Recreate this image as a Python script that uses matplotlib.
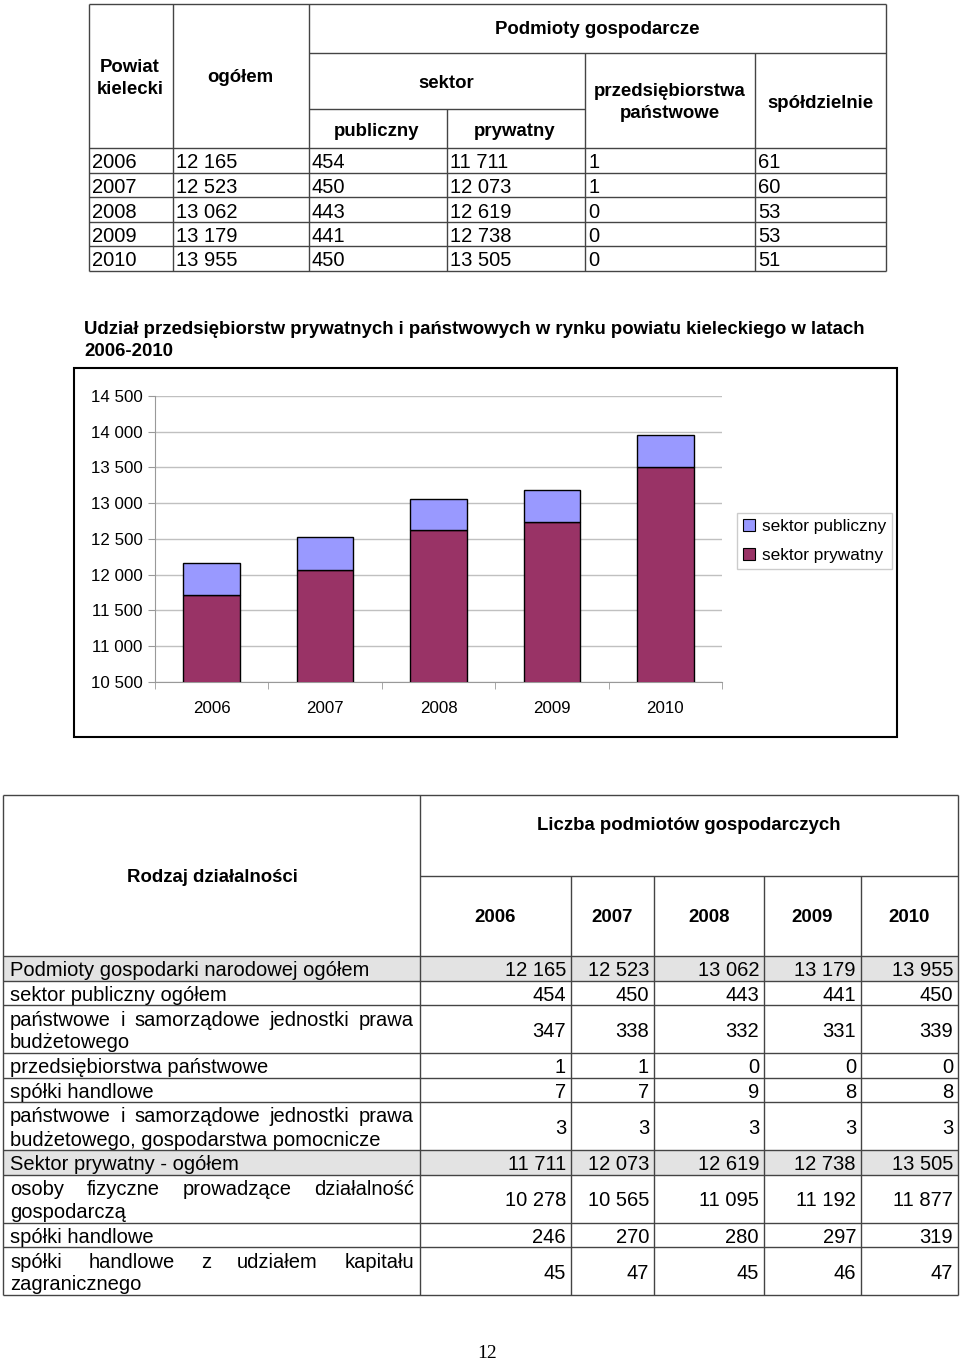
import numpy as np
import matplotlib
matplotlib.use('Agg')
import matplotlib.pyplot as plt
from matplotlib.patches import Rectangle, Patch
from matplotlib.ticker import FuncFormatter

plt.rcParams['font.family'] = ['Liberation Sans', 'DejaVu Sans']

# data
years = ['2006', '2007', '2008', '2009', '2010']
ogolem = [12165, 12523, 13062, 13179, 13955]
publiczny = [454, 450, 443, 441, 450]
prywatny = [11711, 12073, 12619, 12738, 13505]
przeds_panstw = [1, 1, 0, 0, 0]
spoldzielnie = [61, 60, 53, 53, 51]

chart_title = ['Udział przedsiębiorstw prywatnych i państwowych w rynku powiatu kieleckiego w latach',
               '2006-2010']
yticks = [10500, 11000, 11500, 12000, 12500, 13000, 13500, 14000, 14500]

row_labels = [
    'Podmioty gospodarki narodowej ogółem',
    'sektor publiczny ogółem',
    ('państwowe i samorządowe jednostki prawa', 'budżetowego'),
    'przedsiębiorstwa państwowe',
    'spółki handlowe',
    ('państwowe i samorządowe jednostki prawa', 'budżetowego, gospodarstwa pomocnicze'),
    'Sektor prywatny - ogółem',
    ('osoby fizyczne prowadzące działalność', 'gospodarczą'),
    'spółki handlowe',
    ('spółki handlowe z udziałem kapitału', 'zagranicznego'),
]
row_values = [
    [12165, 12523, 13062, 13179, 13955],
    [454, 450, 443, 441, 450],
    [347, 338, 332, 331, 339],
    [1, 1, 0, 0, 0],
    [7, 7, 9, 8, 8],
    [3, 3, 3, 3, 3],
    [11711, 12073, 12619, 12738, 13505],
    [10278, 10565, 11095, 11192, 11877],
    [246, 270, 280, 297, 319],
    [45, 47, 45, 46, 47],
]
gray_rows = [0, 6]


def fmt(v):
    return f'{v:,}'.replace(',', ' ')


W, H = 960, 1362
fig = plt.figure(figsize=(W / 100, H / 100), dpi=100)
ov = fig.add_axes([0, 0, 1, 1])
ov.set_xlim(0, W)
ov.set_ylim(H, 0)
ov.axis('off')

LC = '#444444'
FS = 14.5
HFS = 13.4


def hline(x0, x1, y, c=LC, lw=1):
    ov.plot([x0, x1], [y, y], color=c, lw=lw, solid_capstyle='butt')


def vline(x, y0, y1, c=LC, lw=1):
    ov.plot([x, x], [y0, y1], color=c, lw=lw, solid_capstyle='butt')


# ---------------- top table ----------------
cx = [89, 173, 309, 447, 585, 755, 886]
top = 4
rows_y = [148, 173, 197, 222, 246, 271]

hline(89, 886, top)
hline(309, 886, 53)
hline(309, 585, 109)
for y in rows_y:
    hline(89, 886, y)
for x in [89, 173, 309, 886]:
    vline(x, top, rows_y[-1])
vline(447, 109, rows_y[-1])
for x in [585, 755]:
    vline(x, 53, rows_y[-1])

hdr = dict(fontsize=HFS, fontweight='bold', ha='center', va='center')
ov.text(130, 67, 'Powiat', **hdr)
ov.text(130, 89, 'kielecki', **hdr)
ov.text(240, 78, 'ogółem', **hdr)
ov.text(597, 30, 'Podmioty gospodarcze', **hdr)
ov.text(446, 83, 'sektor', **hdr)
ov.text(377, 131, 'publiczny', **hdr)
ov.text(515, 131, 'prywatny', **hdr)
ov.text(670, 92, 'przedsiębiorstwa', **hdr)
ov.text(670, 113, 'państwowe', **hdr)
ov.text(820, 103, 'spółdzielnie', **hdr)

cols = [years, [fmt(v) for v in ogolem], [fmt(v) for v in publiczny],
        [fmt(v) for v in prywatny], [fmt(v) for v in przeds_panstw],
        [fmt(v) for v in spoldzielnie]]
for ci, col in enumerate(cols):
    for ri, s in enumerate(col):
        yc = (rows_y[ri] + rows_y[ri + 1]) / 2 + 2.5
        ov.text(cx[ci] + 3, yc, s, fontsize=FS, ha='left', va='center')

# ---------------- chart ----------------
ov.text(84, 330, chart_title[0], fontsize=HFS, fontweight='bold', ha='left', va='center')
ov.text(84, 352, chart_title[1], fontsize=HFS, fontweight='bold', ha='left', va='center')
ov.add_patch(Rectangle((74, 368), 897 - 74, 737 - 368, fill=False, ec='black', lw=1.5))

pl, pr, pt, pb = 155, 722, 396, 682
ax = fig.add_axes([pl / W, 1 - pb / H, (pr - pl) / W, (pb - pt) / H])
ax.set_facecolor('none')
x = np.arange(len(years))
c_priv = '#993366'
c_pub = '#9999FF'
ax.bar(x, prywatny, width=0.5, color=c_priv, edgecolor='black', lw=1, zorder=3)
ax.bar(x, publiczny, width=0.5, bottom=prywatny, color=c_pub, edgecolor='black', lw=1, zorder=3)
ax.set_xlim(-0.5, len(years) - 0.5)
ax.set_ylim(10500, 14500)
ax.set_yticks(yticks)
ax.yaxis.set_major_formatter(FuncFormatter(lambda v, p: fmt(int(v))))
ax.set_xticks(x)
ax.set_xticklabels(years)
ax.set_xticks(np.arange(len(years) + 1) - 0.5, minor=True)
ax.tick_params(axis='x', which='major', length=0, pad=13.5, labelsize=12.2)
ax.tick_params(axis='x', which='minor', length=5, color='#999999')
ax.tick_params(axis='y', length=5, color='#999999', labelsize=12.2, pad=4)
ax.grid(axis='y', color='#c0c0c0', lw=1, zorder=0)
for s in ['top', 'right']:
    ax.spines[s].set_visible(False)
for s in ['left', 'bottom']:
    ax.spines[s].set_color('#999999')

handles = [Patch(facecolor=c_pub, edgecolor='black', lw=0.8, label='sektor publiczny'),
           Patch(facecolor=c_priv, edgecolor='black', lw=0.8, label='sektor prywatny')]
leg = ax.legend(handles=handles, loc='center left', bbox_to_anchor=(737 / W, 1 - 541 / H),
                bbox_transform=fig.transFigure, fontsize=12.4, frameon=True, fancybox=False,
                edgecolor='#c0c0c0', handlelength=0.7, handleheight=0.7, handletextpad=0.4,
                borderpad=0.35, labelspacing=0.85, borderaxespad=0)
leg.get_frame().set_linewidth(1)

# ---------------- bottom table ----------------
bx = [3, 420, 571, 654, 764, 861, 958]
bt, bh1, bh2 = 795, 876, 956
line_h = 24.5
bounds = [bh2]
for lab in row_labels:
    bounds.append(bounds[-1] + (48 if isinstance(lab, tuple) else line_h))

for ri in gray_rows:
    ov.add_patch(Rectangle((bx[0], bounds[ri]), bx[-1] - bx[0], bounds[ri + 1] - bounds[ri],
                           fc='#e3e3e3', ec='none', zorder=0))

hline(bx[0], bx[-1], bt)
hline(bx[1], bx[-1], bh1)
for y in bounds:
    hline(bx[0], bx[-1], y)
vline(bx[0], bt, bounds[-1])
vline(bx[1], bt, bounds[-1])
vline(bx[-1], bt, bounds[-1])
for xx in bx[2:-1]:
    vline(xx, bh1, bounds[-1])

ov.text(689, 826, 'Liczba podmiotów gospodarczych', **hdr)
ov.text(212, 877, 'Rodzaj działalności', **hdr)
for i, yr in enumerate(years):
    ov.text((bx[i + 1] + bx[i + 2]) / 2, 918, yr, **hdr)

fig.canvas.draw()
renderer = fig.canvas.get_renderer()


def justified(words_line, x0, x1, y):
    words = words_line.split(' ')
    ws = []
    for w in words:
        t = ov.text(0, 0, w, fontsize=FS)
        ws.append(t.get_window_extent(renderer).width)
        t.remove()
    gap = (x1 - x0 - sum(ws)) / (len(words) - 1)
    xp = x0
    for w, wd in zip(words, ws):
        ov.text(xp, y, w, fontsize=FS, ha='left', va='center')
        xp += wd + gap


for ri, lab in enumerate(row_labels):
    y0, y1 = bounds[ri], bounds[ri + 1]
    yc = (y0 + y1) / 2 + 2.5
    if isinstance(lab, tuple):
        justified(lab[0], 10, 414, yc - 11.5)
        ov.text(10, yc + 11.5, lab[1], fontsize=FS, ha='left', va='center')
    else:
        ov.text(10, yc, lab, fontsize=FS, ha='left', va='center')
    for ci, v in enumerate(row_values[ri]):
        ov.text(bx[ci + 2] - 5, yc, fmt(v), fontsize=FS, ha='right', va='center')

ov.text(487, 1354, '12', fontsize=14, family=['Liberation Serif', 'DejaVu Serif'],
        ha='center', va='center')

fig.savefig('out.png', dpi=100)
